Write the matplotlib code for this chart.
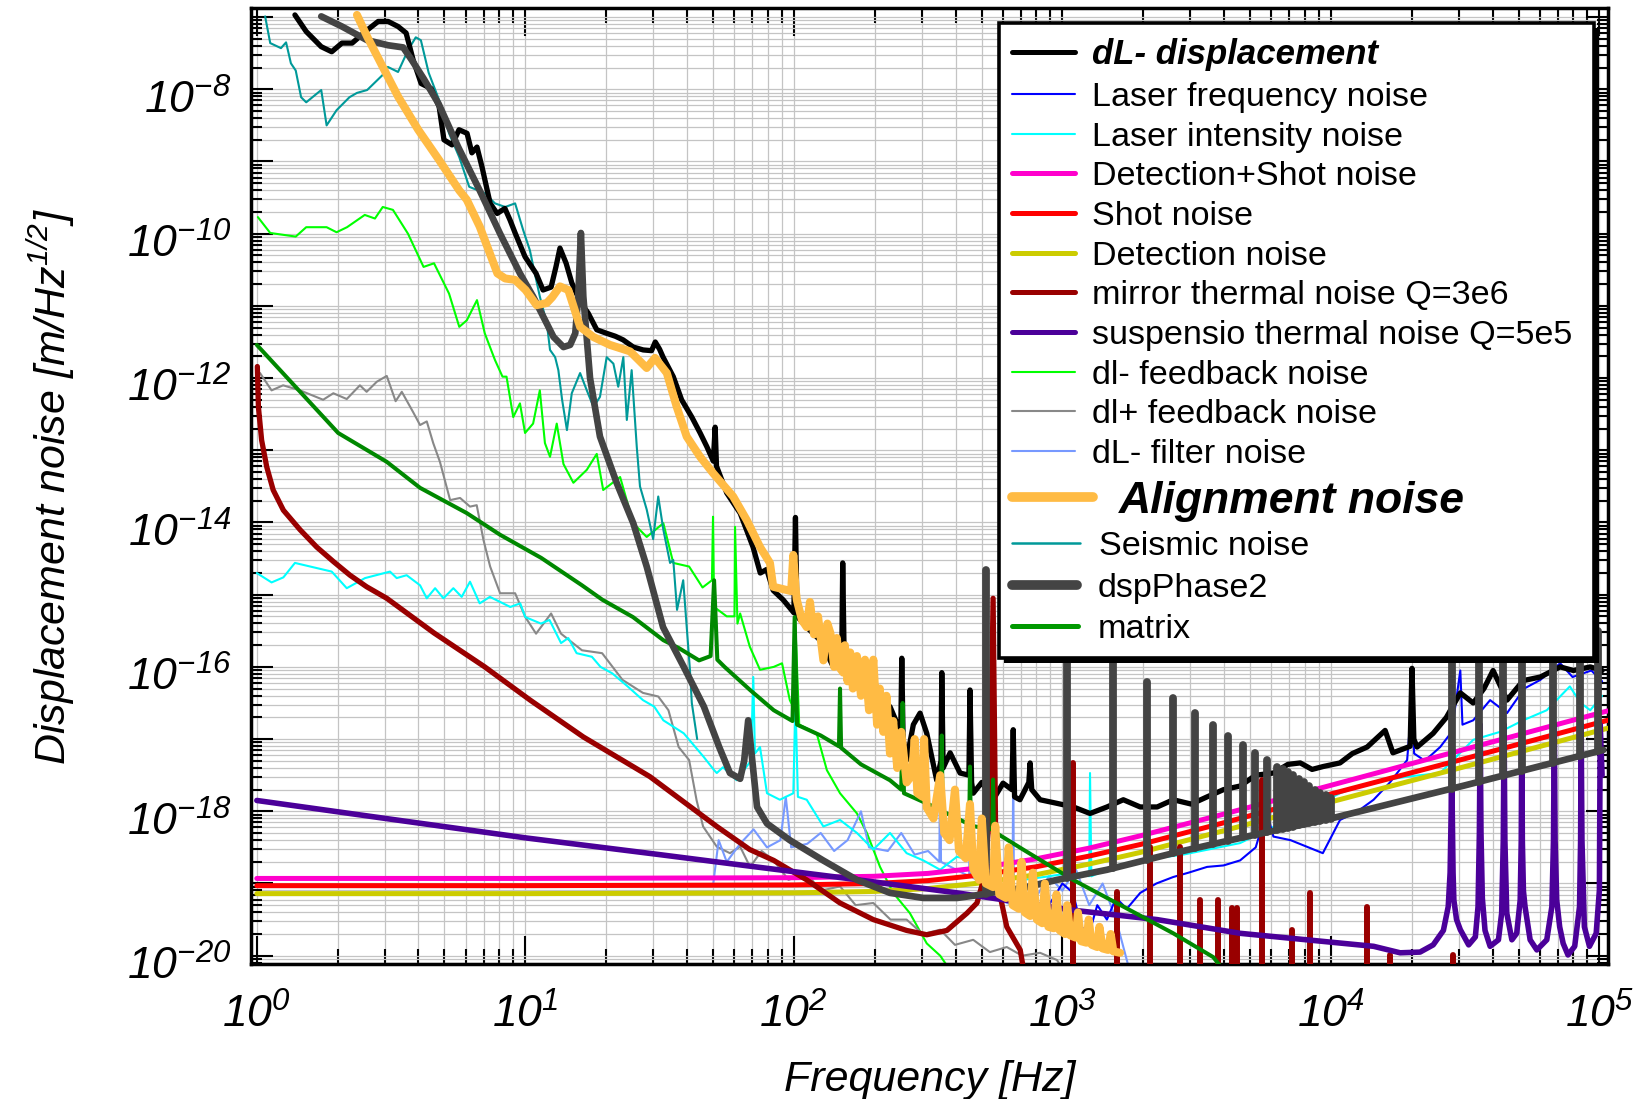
import numpy as np
import matplotlib
matplotlib.use('Agg')
import matplotlib.pyplot as plt
from matplotlib.lines import Line2D
from matplotlib.patches import Rectangle
from matplotlib.ticker import LogLocator, NullFormatter
from matplotlib.transforms import ScaledTranslation

plt.rcParams['font.family'] = ['Liberation Sans', 'DejaVu Sans']
plt.rcParams['mathtext.fontset'] = 'custom'
plt.rcParams['mathtext.rm'] = 'Liberation Sans:italic'
plt.rcParams['mathtext.it'] = 'Liberation Sans:italic'
plt.rcParams['mathtext.bf'] = 'Liberation Sans:bold:italic'

# ---------------- data: log10(frequency [Hz]) , log10(noise [m/Hz^1/2]) ----------------
dl_lf = [0.142,0.184,0.240,0.279,0.317,0.355,0.411,0.452,0.489,0.526,0.556,0.582,0.612,0.649,0.679,0.697,0.727,0.753,0.783,0.801,0.820,0.839,0.869,0.895,0.924,0.943,0.962,0.999,1.040,1.066,1.096,1.114,1.129,1.140,1.152,1.173,1.205,1.234,1.266,1.303,1.335,1.364,1.402,1.439,1.470,1.484,1.500,1.513,1.551,1.582,1.620,1.651,1.676,1.700,1.707,1.712,1.750,1.800,1.848,1.875,1.899,1.923,1.960,2.000,2.006,2.012,2.048,2.098,2.147,2.178,2.182,2.188,2.197,2.235,2.271,2.321,2.358,2.398,2.402,2.407,2.420,2.445,2.470,2.495,2.532,2.548,2.551,2.556,2.582,2.619,2.652,2.656,2.662,2.668,2.700,2.742,2.779,2.812,2.817,2.822,2.842,2.875,2.880,2.886,2.917,2.980,3.041,3.103,3.166,3.227,3.290,3.353,3.413,3.480,3.539,3.600,3.662,3.720,3.786,3.840,3.886,3.930,3.971,4.034,4.080,4.135,4.202,4.231,4.295,4.302,4.309,4.321,4.381,4.430,4.482,4.530,4.570,4.604,4.656,4.716,4.780,4.854,4.903,4.966,5.010]
dl_lv = [-6.97,-7.20,-7.41,-7.48,-7.36,-7.36,-7.18,-7.06,-7.06,-7.13,-7.22,-7.59,-7.92,-7.99,-8.24,-8.70,-8.77,-8.56,-8.61,-8.88,-8.80,-9.08,-9.58,-9.72,-9.65,-9.81,-9.99,-10.32,-10.55,-10.78,-10.74,-10.46,-10.20,-10.30,-10.41,-10.68,-10.95,-11.10,-11.33,-11.38,-11.42,-11.47,-11.57,-11.61,-11.62,-11.50,-11.60,-11.71,-11.98,-12.30,-12.54,-12.76,-12.95,-13.15,-12.68,-13.22,-13.59,-13.87,-14.34,-14.70,-14.65,-14.94,-15.07,-15.25,-13.93,-15.30,-15.45,-15.63,-16.00,-16.00,-14.56,-16.00,-16.04,-16.20,-16.36,-16.60,-16.55,-16.90,-15.88,-17.00,-17.29,-16.80,-16.64,-16.92,-17.57,-17.30,-16.08,-17.40,-17.19,-17.47,-17.50,-16.32,-17.60,-17.75,-17.60,-17.84,-17.61,-17.70,-16.87,-17.80,-17.84,-17.60,-17.33,-17.70,-17.84,-17.89,-17.94,-18.03,-17.94,-17.84,-17.94,-17.94,-17.84,-17.90,-17.80,-17.70,-17.65,-17.50,-17.47,-17.35,-17.33,-17.42,-17.38,-17.33,-17.20,-17.11,-16.88,-17.19,-17.10,-16.02,-17.00,-17.11,-16.92,-16.70,-16.36,-16.50,-16.30,-16.05,-16.46,-16.19,-16.14,-16.00,-16.05,-16.00,-16.05]

lfreq_lf = [2.95,3.00,3.04,3.07,3.10,3.13,3.166,3.20,3.24,3.29,3.35,3.413,3.47,3.539,3.60,3.662,3.72,3.76,3.786,3.85,3.91,3.97,4.034,4.10,4.159,4.22,4.284,4.302,4.31,4.35,4.407,4.45,4.482,4.49,4.53,4.593,4.656,4.72,4.78,4.854,4.90,4.97,5.01]
lfreq_lv = [-19.3,-19.0,-19.13,-19.6,-19.69,-19.3,-19.5,-19.2,-19.35,-19.13,-19.0,-18.91,-18.85,-18.77,-18.75,-18.68,-18.5,-18.0,-18.35,-18.4,-18.49,-18.58,-18.12,-18.0,-17.84,-17.6,-17.29,-16.46,-17.2,-17.3,-17.11,-16.9,-16.05,-16.8,-16.74,-16.46,-16.64,-16.3,-16.18,-15.95,-16.14,-16.05,-16.2]

lint_lf = [0.0,0.055,0.099,0.142,0.279,0.335,0.403,0.496,0.521,0.558,0.608,0.633,0.664,0.695,0.732,0.763,0.794,0.83,0.868,0.944,0.981,1.0,1.058,1.09,1.133,1.16,1.191,1.248,1.28,1.324,1.381,1.438,1.48,1.514,1.59,1.665,1.703,1.713,1.736,1.787,1.84,1.849,1.855,1.874,1.9,1.948,1.998,2.006,2.015,2.048,2.11,2.172,2.235,2.296,2.358,2.42,2.482,2.545,2.607,2.668,2.73,2.793,2.855,2.95,3.04,3.10,3.103,3.108,3.2,3.29,3.45,3.662,3.85,4.034,4.15,4.284,4.407,4.53,4.63,4.716,4.804,4.89,4.93,4.966,5.01]
lint_lv = [-14.70,-14.83,-14.76,-14.56,-14.68,-14.91,-14.77,-14.68,-14.77,-14.73,-14.87,-15.05,-14.91,-15.05,-14.91,-15.03,-14.82,-15.12,-15.03,-15.17,-15.12,-15.31,-15.40,-15.35,-15.67,-15.6,-15.81,-15.86,-16.0,-16.09,-16.27,-16.46,-16.55,-16.74,-16.92,-17.25,-17.43,-17.47,-17.39,-17.57,-17.3,-16.14,-17.2,-17.11,-17.75,-17.84,-17.75,-16.46,-17.8,-17.84,-18.21,-18.12,-18.30,-18.53,-18.30,-18.58,-18.68,-18.81,-18.63,-18.68,-18.8,-18.86,-18.95,-18.9,-18.85,-18.9,-17.47,-18.9,-18.75,-18.68,-18.6,-18.44,-18.1,-17.75,-17.6,-17.52,-17.47,-17.01,-16.9,-16.74,-16.60,-16.27,-16.5,-16.60,-16.4]

detshot_lf = [0.0,1.0,2.0,2.3,2.5,2.7,2.9,3.1,3.29,3.6,4.0,4.5,5.03]
detshot_lv = [-18.93,-18.93,-18.92,-18.90,-18.86,-18.78,-18.66,-18.51,-18.34,-18.04,-17.64,-17.14,-16.61]
shot_lv = [-19.03,-19.03,-19.02,-19.00,-18.96,-18.88,-18.77,-18.62,-18.46,-18.16,-17.76,-17.27,-16.74]
det_lv = [-19.14,-19.14,-19.13,-19.11,-19.07,-18.99,-18.88,-18.73,-18.57,-18.27,-17.87,-17.38,-16.85]

mirror_lf = [0.002,0.006,0.018,0.037,0.061,0.099,0.161,0.223,0.285,0.347,0.409,0.484,0.660,0.849,1.018,1.216,1.464,1.713,1.836,1.925,2.048,2.172,2.296,2.42,2.495,2.57,2.645,2.682,2.71,2.73,2.742,2.752,2.77,2.793,2.843,2.87]
mirror_lv = [-11.84,-12.40,-12.86,-13.23,-13.55,-13.83,-14.10,-14.34,-14.54,-14.73,-14.89,-15.05,-15.53,-16.00,-16.46,-16.97,-17.52,-18.21,-18.53,-18.68,-18.95,-19.27,-19.50,-19.65,-19.71,-19.65,-19.41,-19.27,-18.9,-18.0,-15.05,-18.5,-19.2,-19.6,-19.92,-20.5]
mirror_peak_lf = [3.04,3.204,3.326,3.438,3.513,3.58,3.632,3.651,3.744,3.856,3.923,4.135,4.22,4.456]
mirror_peak_lv = [-17.33,-19.12,-18.5,-18.5,-19.23,-19.23,-19.34,-19.34,-17.57,-19.65,-19.13,-19.32,-19.99,-19.99]

susp_lf = [0.0,0.5,1.005,1.5,1.837,2.2,2.608,3.04,3.353,3.662,3.91,4.159,4.258,4.332,4.381,4.419,4.437,4.444,4.448,4.450,4.452,4.455,4.458,4.468,4.482,4.513,4.538,4.548,4.553,4.556,4.559,4.564,4.574,4.593,4.624,4.636,4.642,4.645,4.648,4.655,4.674,4.692,4.705,4.709,4.711,4.713,4.717,4.723,4.742,4.767,4.804,4.823,4.829,4.832,4.835,4.841,4.852,4.865,4.883,4.908,4.926,4.930,4.932,4.935,4.944,4.963,4.988,5.0,5.003,5.01]
susp_lv = [-17.85,-18.11,-18.37,-18.60,-18.76,-18.93,-19.13,-19.37,-19.50,-19.69,-19.78,-19.87,-19.96,-19.95,-19.85,-19.65,-19.32,-18.85,-18.0,-16.8,-18.0,-18.85,-19.23,-19.50,-19.64,-19.85,-19.74,-19.32,-18.3,-16.8,-18.3,-19.2,-19.65,-19.87,-19.78,-19.41,-18.4,-16.8,-18.4,-19.41,-19.78,-19.69,-19.23,-18.4,-16.8,-18.4,-19.1,-19.32,-19.78,-19.92,-19.78,-19.32,-18.4,-16.8,-18.4,-19.23,-19.6,-19.83,-19.99,-19.87,-19.32,-18.4,-16.8,-18.4,-19.60,-19.87,-19.69,-19.09,-16.8,-17.5]

dlm_fb_lf = [0.004,0.05,0.145,0.184,0.26,0.297,0.336,0.402,0.44,0.469,0.507,0.563,0.621,0.66,0.716,0.754,0.782,0.82,0.849,0.887,0.915,0.93,0.955,0.98,0.999,1.029,1.054,1.073,1.092,1.117,1.142,1.179,1.229,1.266,1.29,1.353,1.402,1.452,1.514,1.551,1.61,1.66,1.695,1.699,1.703,1.75,1.779,1.781,1.79,1.8,1.836,1.874,1.925,1.956,1.985,2.003,2.005,2.02,2.085,2.123,2.172,2.235,2.272,2.321,2.370,2.432,2.495,2.545,2.6]
dlm_fb_lv = [-9.77,-9.99,-10.04,-9.91,-9.91,-9.98,-9.91,-9.74,-9.79,-9.63,-9.67,-10.0,-10.46,-10.41,-10.83,-11.29,-11.20,-10.92,-11.38,-11.75,-11.98,-11.98,-12.54,-12.35,-12.76,-12.63,-12.17,-12.90,-13.09,-12.63,-13.19,-13.45,-13.27,-13.05,-13.55,-13.37,-14.01,-14.20,-14.01,-14.56,-14.61,-14.9,-14.8,-13.92,-15.17,-15.3,-15.3,-14.06,-15.4,-15.26,-15.72,-16.04,-16.0,-15.95,-16.46,-16.6,-15.35,-16.8,-16.92,-17.43,-17.75,-18.03,-18.30,-18.77,-19.13,-19.41,-19.83,-20.0,-20.3]

dlp_fb_lf = [0.012,0.055,0.098,0.161,0.247,0.285,0.335,0.384,0.409,0.447,0.484,0.517,0.540,0.582,0.608,0.633,0.657,0.682,0.72,0.757,0.794,0.819,0.844,0.869,0.906,0.962,1.0,1.04,1.096,1.133,1.211,1.286,1.362,1.438,1.495,1.533,1.571,1.61,1.638,1.662,1.713,1.762,1.8,1.837,1.88,1.925,1.98,2.048,2.1,2.172,2.23,2.296,2.36,2.42,2.48,2.545,2.6,2.668,2.73,2.793,2.85,2.917,2.98,3.02]
dlp_fb_lv = [-11.93,-12.17,-12.10,-12.17,-12.30,-12.21,-12.29,-12.10,-12.19,-12.05,-11.97,-12.32,-12.19,-12.47,-12.65,-12.60,-12.90,-13.16,-13.69,-13.66,-13.78,-13.76,-14.24,-14.61,-14.98,-14.98,-15.31,-15.54,-15.26,-15.54,-15.77,-15.81,-16.18,-16.36,-16.41,-16.60,-17.11,-17.29,-17.85,-18.21,-18.49,-18.58,-18.49,-18.77,-18.55,-18.68,-18.95,-18.86,-19.1,-19.04,-19.3,-19.27,-19.5,-19.50,-19.7,-19.64,-19.85,-19.78,-19.95,-19.88,-20.0,-19.96,-20.06,-20.3]

filt_lf = [1.70,1.72,1.75,1.80,1.85,1.90,1.95,1.97,1.99,2.05,2.10,2.15,2.20,2.25,2.28,2.35,2.40,2.45,2.50,2.542,2.545,2.548,2.60,2.653,2.656,2.659,2.70,2.75,2.814,2.817,2.82,2.90,2.95,3.00,3.05,3.10,3.15,3.20,3.25]
filt_lv = [-19.0,-18.4,-18.7,-18.45,-18.25,-18.5,-18.4,-17.8,-18.5,-18.45,-18.3,-18.55,-18.4,-18.0,-18.5,-18.55,-18.3,-18.6,-18.55,-18.7,-16.64,-18.7,-18.8,-18.9,-17.29,-18.9,-19.0,-19.2,-19.3,-17.36,-19.3,-19.2,-18.9,-19.1,-18.8,-19.3,-19.0,-19.5,-20.2]

align_lf = [0.373,0.411,0.469,0.526,0.601,0.679,0.754,0.782,0.830,0.896,0.925,0.962,1.001,1.042,1.080,1.100,1.129,1.160,1.204,1.253,1.315,1.390,1.452,1.483,1.527,1.564,1.601,1.651,1.700,1.774,1.825,1.874,1.911,1.923,1.990,1.998,2.006,2.011,2.030,2.048,2.060,2.075,2.090,2.110,2.125,2.136,2.150,2.160,2.172,2.184,2.190,2.200,2.210,2.220,2.235,2.250,2.265,2.280,2.296,2.310,2.320,2.333,2.345,2.358,2.370,2.385,2.400,2.420,2.440,2.450,2.460,2.480,2.485,2.495,2.520,2.545,2.560,2.580,2.600,2.615,2.640,2.656,2.668,2.690,2.700,2.715,2.742,2.750,2.765,2.790,2.800,2.815,2.838,2.848,2.860,2.880,2.890,2.905,2.925,2.935,2.948,2.968,2.978,2.990,3.010,3.018,3.030,3.050,3.058,3.070,3.090,3.098,3.110,3.130,3.138,3.150,3.170,3.180,3.190,3.215]
align_lv = [-6.97,-7.27,-7.69,-8.10,-8.56,-8.98,-9.40,-9.53,-9.90,-10.55,-10.62,-10.64,-10.78,-10.99,-10.96,-10.88,-10.73,-10.78,-11.29,-11.43,-11.54,-11.63,-11.86,-11.72,-11.93,-12.40,-12.81,-13.09,-13.32,-13.64,-13.97,-14.34,-14.56,-14.89,-14.95,-14.45,-14.90,-15.07,-15.35,-15.45,-15.10,-15.55,-15.30,-15.91,-15.40,-15.53,-16.00,-15.60,-16.02,-16.08,-15.70,-16.20,-15.80,-16.30,-15.85,-16.40,-15.90,-16.60,-15.90,-16.80,-16.30,-16.90,-16.40,-17.20,-16.75,-17.40,-16.90,-17.60,-17.50,-17.00,-17.75,-17.80,-17.00,-17.95,-18.10,-17.50,-18.30,-18.40,-17.70,-18.55,-18.65,-17.90,-18.80,-18.95,-18.10,-19.00,-19.05,-18.20,-19.15,-19.20,-18.50,-19.30,-19.35,-18.70,-19.40,-19.45,-18.85,-19.50,-19.55,-19.00,-19.60,-19.62,-19.15,-19.65,-19.70,-19.30,-19.72,-19.75,-19.40,-19.80,-19.82,-19.50,-19.85,-19.88,-19.60,-19.90,-19.92,-19.70,-19.94,-19.96]

seis_lf = [0.031,0.05,0.09,0.109,0.127,0.145,0.165,0.184,0.24,0.26,0.297,0.345,0.373,0.411,0.469,0.488,0.526,0.563,0.592,0.611,0.64,0.679,0.716,0.754,0.791,0.849,0.887,0.925,0.962,0.992,1.017,1.03,1.054,1.08,1.092,1.111,1.123,1.137,1.155,1.173,1.204,1.229,1.254,1.278,1.303,1.328,1.346,1.365,1.378,1.396,1.415,1.427,1.452,1.476,1.495,1.514,1.539,1.551,1.565,1.588,1.613,1.62,1.64]
seis_lv = [-6.99,-7.36,-7.43,-7.35,-7.64,-7.74,-8.11,-8.18,-8.01,-8.50,-8.29,-8.11,-8.05,-8.01,-7.80,-7.69,-7.76,-7.46,-7.28,-7.32,-7.77,-8.15,-8.61,-8.94,-9.35,-9.44,-9.58,-9.63,-9.58,-9.95,-10.23,-10.46,-10.87,-11.24,-11.61,-11.71,-11.89,-12.30,-12.72,-12.21,-11.93,-12.17,-12.40,-12.26,-11.71,-11.80,-12.12,-11.71,-12.58,-11.89,-12.95,-13.50,-13.82,-14.23,-13.64,-14.10,-14.56,-14.52,-15.21,-14.80,-16.04,-16.50,-17.0]

dsp_lf = [0.240,0.317,0.411,0.489,0.545,0.578,0.621,0.677,0.750,0.830,0.906,0.980,1.029,1.067,1.105,1.142,1.167,1.186,1.197,1.207,1.216,1.241,1.278,1.340,1.402,1.452,1.513,1.590,1.665,1.722,1.762,1.800,1.815,1.830,1.845,1.863,1.900,1.985,2.109,2.235,2.358,2.482,2.608,2.668,2.750,2.854,2.980,3.166,3.413,3.662,4.000,4.500,5.015]
dsp_lv = [-6.99,-7.13,-7.32,-7.39,-7.42,-7.60,-7.85,-8.20,-8.80,-9.40,-10.00,-10.55,-10.87,-11.15,-11.43,-11.57,-11.54,-11.38,-10.87,-9.99,-10.87,-12.00,-12.81,-13.45,-14.01,-14.61,-15.45,-16.00,-16.55,-17.11,-17.47,-17.55,-17.30,-16.74,-17.29,-17.94,-18.17,-18.40,-18.68,-18.95,-19.13,-19.20,-19.20,-19.17,-19.12,-19.06,-18.95,-18.81,-18.58,-18.37,-18.10,-17.64,-17.15]
dsp_spike_lf = [2.716,3.018,3.189,3.316,3.413,3.495,3.562,3.618,3.673,3.718,3.763,3.800,3.820,3.840,3.860,3.880,3.900,3.920,3.940,3.960,3.980,4.000,4.450,4.553,4.642,4.711,4.829,4.928,4.996]
dsp_spike_lv = [-14.66,-15.5,-15.5,-16.21,-16.43,-16.64,-16.80,-16.96,-17.08,-17.19,-17.29,-17.39,-17.42,-17.46,-17.50,-17.55,-17.60,-17.65,-17.70,-17.74,-17.78,-17.82,-15.5,-15.5,-15.5,-15.5,-15.5,-15.5,-15.5]

matrix_lf = [0.0,0.303,0.484,0.608,0.782,0.906,1.059,1.211,1.287,1.401,1.514,1.572,1.647,1.69,1.703,1.715,1.742,1.837,1.925,1.995,2.003,2.012,2.10,2.168,2.172,2.176,2.25,2.358,2.40,2.405,2.41,2.50,2.548,2.551,2.554,2.653,2.656,2.659,2.739,2.742,2.745,2.854,3.04,3.227,3.413,3.562,3.60]
matrix_lv = [-11.54,-12.76,-13.16,-13.52,-13.87,-14.17,-14.49,-14.87,-15.07,-15.31,-15.63,-15.74,-15.91,-15.85,-14.80,-15.90,-16.00,-16.32,-16.60,-16.75,-15.31,-16.80,-16.95,-17.10,-16.30,-17.12,-17.35,-17.57,-17.70,-16.50,-17.75,-17.90,-17.98,-16.95,-18.00,-18.18,-17.38,-18.20,-18.25,-17.56,-18.28,-18.53,-18.95,-19.32,-19.69,-20.02,-20.2]

legend_labels = ['dL- displacement', 'Laser frequency noise', 'Laser intensity noise',
                 'Detection+Shot noise', 'Shot noise', 'Detection noise',
                 'mirror thermal noise Q=3e6', 'suspensio thermal noise Q=5e5',
                 'dl- feedback noise', 'dl+ feedback noise', 'dL- filter noise',
                 'Alignment noise', 'Seismic noise', 'dspPhase2', 'matrix']

# ---------------- figure ----------------
W, H = 1637, 1099
fig = plt.figure(figsize=(W / 100, H / 100), dpi=100)
ax = fig.add_axes([251 / W, 1 - 964 / H, (1608 - 251) / W, (964 - 8) / H])
ax.set_xscale('log')
ax.set_yscale('log')
ax.set_xlim(10 ** -0.0216, 10 ** 5.032)
ax.set_ylim(10 ** -20.115, 10 ** -6.874)


def P(lf, lv):
    return 10 ** np.asarray(lf, float), 10 ** np.asarray(lv, float)


kw = dict(solid_capstyle='round', solid_joinstyle='round')
ax.plot(*P(dlm_fb_lf, dlm_fb_lv), color='#00FF00', lw=1.5, zorder=2, **kw)
ax.plot(*P(dlp_fb_lf, dlp_fb_lv), color='#888888', lw=1.5, zorder=2, **kw)
ax.plot(*P(filt_lf, filt_lv), color='#7799FF', lw=1.5, zorder=2, **kw)
ax.plot(*P(lint_lf, lint_lv), color='#00FFFF', lw=1.5, zorder=2, **kw)
ax.plot(*P(lfreq_lf, lfreq_lv), color='#0000FF', lw=1.5, zorder=2, **kw)
ax.plot(*P(seis_lf, seis_lv), color='#009999', lw=1.5, zorder=2, **kw)
ax.plot(*P(dl_lf, dl_lv), color='black', lw=3.8, zorder=3, **kw)
ax.plot(*P(detshot_lf, detshot_lv), color='#FF00CC', lw=3.6, zorder=4, **kw)
ax.plot(*P(detshot_lf, shot_lv), color='#FF0000', lw=3.6, zorder=4, **kw)
ax.plot(*P(detshot_lf, det_lv), color='#CCCC00', lw=3.6, zorder=4, **kw)
ax.plot(*P(mirror_lf, mirror_lv), color='#990000', lw=3.8, zorder=4, **kw)
mx, my = P(mirror_peak_lf, mirror_peak_lv)
ax.vlines(mx, 1e-21, my, color='#990000', lw=4.3, zorder=4, capstyle='round')
ax.plot(*P(susp_lf, susp_lv), color='#4B0099', lw=4.0, zorder=4, **kw)
ax.plot(*P(matrix_lf, matrix_lv), color='#008800', lw=2.9, zorder=5, **kw)
ax.plot(*P(dsp_lf, dsp_lv), color='#444444', lw=4.8, zorder=6, **kw)
base = np.interp(dsp_spike_lf, dsp_lf, dsp_lv)
sx, sy = P(dsp_spike_lf, dsp_spike_lv)
ax.vlines(sx, 10 ** base, sy, color='#444444', lw=5.6, zorder=6, capstyle='round')
ax.plot(*P(align_lf, align_lv), color='#FFBB44', lw=5.8, zorder=7, **kw)

# ---------------- axes style ----------------
for s in ax.spines.values():
    s.set_linewidth(2.5)
ax.xaxis.set_minor_locator(LogLocator(base=10, subs=np.arange(2, 10), numticks=200))
ax.yaxis.set_minor_locator(LogLocator(base=10, subs=np.arange(2, 10), numticks=200))
ax.xaxis.set_minor_formatter(NullFormatter())
ax.yaxis.set_minor_formatter(NullFormatter())
xt = [10.0 ** k for k in range(0, 6)]
ax.set_xticks(xt, [r'$10^{%d}$' % k for k in range(0, 6)])
yt = [10.0 ** k for k in range(-20, -6)]
ax.set_yticks(yt, [r'$10^{%d}$' % k if k % 2 == 0 else '' for k in range(-20, -6)])
ax.grid(True, which='both', color='#c4c4c4', lw=0.9)
ax.set_axisbelow(True)
ax.tick_params(which='both', direction='in', top=True, right=True, width=1.5, colors='black')
ax.tick_params(axis='x', which='major', length=20, pad=21, labelsize=32)
ax.tick_params(axis='x', which='minor', length=11)
ax.tick_params(axis='y', which='major', length=16, pad=14, labelsize=32)
ax.tick_params(axis='y', which='minor', length=8)
for lab in ax.get_yticklabels():
    lab.set_transform(lab.get_transform() + ScaledTranslation(0, -5 / 72, fig.dpi_scale_trans))

ax.set_xlabel('Frequency [Hz]', fontsize=31, style='italic')
ax.xaxis.set_label_coords(0.5, -0.100)
ax.set_ylabel(r'Displacement noise [m/Hz$^{1/2}$]', fontsize=31, style='italic')
ax.yaxis.set_label_coords(-0.128, 0.5)

# ---------------- legend (drawn manually) ----------------
def fx(x):
    return x / W


def fy(y):
    return 1 - y / H


fig.add_artist(Rectangle((fx(1004), fy(663)), (1594 - 999) / W, (658 - 23) / H,
                         transform=fig.transFigure, facecolor='black', edgecolor='none', zorder=9))
fig.add_artist(Rectangle((fx(999), fy(658)), (1594 - 999) / W, (658 - 23) / H,
                         transform=fig.transFigure, facecolor='white', edgecolor='black',
                         lw=2.6, zorder=10))

rows_y = [52, 94, 134, 173, 213, 253, 292, 332, 372, 411, 451, 497, 543, 585, 626]
colors = ['black', '#0000FF', '#00FFFF', '#FF00CC', '#FF0000', '#CCCC00', '#990000', '#4B0099',
          '#00FF00', '#888888', '#7799FF', '#FFBB44', '#009999', '#444444', '#009900']
lws = [3.6, 1.5, 1.5, 3.6, 3.6, 3.6, 3.6, 3.6, 1.5, 1.5, 1.5, 7.0, 1.8, 7.0, 3.6]
h_end = [1075] * 11 + [1093, 1080, 1077, 1078]
t_x = [1092] * 11 + [1119, 1099, 1098, 1098]
for i, lab in enumerate(legend_labels):
    yy = rows_y[i]
    fig.add_artist(Line2D([fx(1012), fx(h_end[i])], [fy(yy), fy(yy)], color=colors[i], lw=lws[i],
                          solid_capstyle='round', transform=fig.transFigure, zorder=11))
    if i == 0:
        fs, wt, st = 25, 'bold', 'italic'
    elif i == 11:
        fs, wt, st = 32, 'bold', 'italic'
    else:
        fs, wt, st = 24.6, 'normal', 'normal'
    em = fs * 100 / 72
    fig.text(fx(t_x[i]), fy(yy + 0.358 * em), lab, fontsize=fs, fontweight=wt, style=st,
             va='baseline', ha='left', zorder=12)

fig.savefig('out.png', dpi=100)
